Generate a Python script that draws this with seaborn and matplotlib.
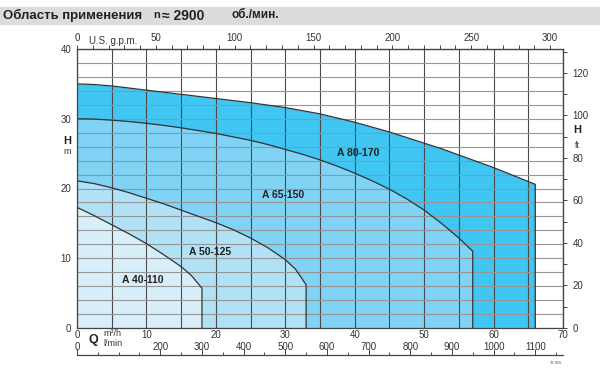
import numpy as np
import pandas as pd
import matplotlib
matplotlib.use('Agg')
import matplotlib.pyplot as plt
import matplotlib.ticker as mticker
import seaborn as sns

# pump range curves, Q in m3/h, H in m
q_80 = [0, 2.5, 5, 7.5, 10, 12.5, 15, 17.5, 20, 22.5, 25, 27.5, 30, 32.5, 35, 37.5,
        40, 42.5, 45, 47.5, 50, 52.5, 55, 57.5, 60, 62.5, 65, 66]
h_80 = [35.0, 34.9, 34.7, 34.4, 34.1, 33.8, 33.5, 33.2, 32.9, 32.6, 32.3, 31.95, 31.6,
        31.15, 30.7, 30.1, 29.5, 28.8, 28.1, 27.3, 26.5, 25.7, 24.8, 23.9, 23.0, 22.0,
        21.0, 20.6]
q_65 = [0, 2.5, 5, 7.5, 10, 12.5, 15, 17.5, 20, 22.5, 25, 27.5, 30, 32.5, 35, 37.5,
        40, 42.5, 45, 47.5, 50, 52.5, 55, 57]
h_65 = [30.0, 29.95, 29.8, 29.6, 29.35, 29.05, 28.7, 28.3, 27.9, 27.4, 26.9, 26.3, 25.6,
        24.9, 24.1, 23.2, 22.2, 21.1, 19.9, 18.5, 16.9, 15.0, 12.9, 11.0]
q_50 = [0, 2.5, 5, 7.5, 10, 12.5, 15, 17.5, 20, 22.5, 25, 27.5, 30, 31.5, 33]
h_50 = [21.1, 20.7, 20.1, 19.4, 18.6, 17.8, 16.9, 16.0, 15.1, 14.1, 12.9, 11.5, 9.8,
        8.4, 6.2]
q_40 = [0, 2.5, 5, 7.5, 10, 12.5, 15, 16.5, 18]
h_40 = [17.3, 16.1, 14.8, 13.5, 12.1, 10.5, 8.8, 7.5, 5.7]

models = ['A 80-170', 'A 65-150', 'A 50-125', 'A 40-110']
label_q = [40.5, 29.7, 19.2, 9.5]
label_h = [25.1, 19.1, 10.9, 6.9]
colors = ['#3fc6f3', '#80d3f5', '#b0e1f7', '#d8eff9']

gpm_ticks = [0, 50, 100, 150, 200, 250, 300]
ft_ticks = [0, 20, 40, 60, 80, 100, 120]
lmin_labels = [0, 200, 300, 400, 500, 600, 700, 800, 900, 1000, 1100]

sns.set_style('white')
plt.rcParams['font.family'] = ['Liberation Sans', 'DejaVu Sans']

fig = plt.figure(figsize=(6, 3.72), dpi=100)
ax = fig.add_axes([77/600, 1-328/372, (563-77)/600, (328-49)/372])

curves = [(q_80, h_80), (q_65, h_65), (q_50, h_50), (q_40, h_40)]
for (q, h), name, c in zip(curves, models, colors):
    ax.fill_between(q + [q[-1]], h + [0], 0, color=c, lw=0, zorder=1)
    df = pd.DataFrame({'Q': q + [q[-1]], 'H': h + [0]})
    sns.lineplot(data=df, x='Q', y='H', sort=False, estimator=None, color='#333333',
                 lw=0.9, ax=ax, zorder=4)

for name, x, y in zip(models, label_q, label_h):
    ax.text(x, y, name, ha='center', va='center', fontsize=7.5, fontweight='bold',
            color='#222222', zorder=5)

ax.set_xlim(0, 70)
ax.set_ylim(0, 40)
ax.set_xlabel('')
ax.set_ylabel('')
ax.xaxis.set_major_locator(mticker.MultipleLocator(10))
ax.xaxis.set_minor_locator(mticker.MultipleLocator(5))
ax.yaxis.set_major_locator(mticker.MultipleLocator(10))
ax.yaxis.set_minor_locator(mticker.MultipleLocator(2))
ax.set_axisbelow(False)
ax.xaxis.grid(True, which='both', color='#4a4a4a', lw=0.8, zorder=3)
ax.yaxis.grid(True, which='both', color='#959595', lw=0.8, zorder=3)
ax.tick_params(axis='both', which='both', length=0, labelsize=7, colors='#333333')
ax.tick_params(axis='x', pad=1.5)
ax.tick_params(axis='y', pad=4)
for s in ax.spines.values():
    s.set_color('#444444')
    s.set_linewidth(0.9)
    s.set_zorder(6)

# U.S. g.p.m. on top
top = ax.secondary_xaxis('top', functions=(lambda x: x * 4.403, lambda x: x / 4.403))
top.xaxis.set_major_locator(mticker.FixedLocator(gpm_ticks))
top.xaxis.set_minor_locator(mticker.FixedLocator(np.arange(0, 301, 10)))
top.tick_params(which='both', direction='out', length=3, width=0.7, colors='#444444',
                labelsize=7, pad=1)
top.tick_params(which='major', labelcolor='#333333')

# l/min below
bot = ax.secondary_xaxis(-0.097, functions=(lambda x: x * 16.667, lambda x: x / 16.667))
bot.xaxis.set_major_locator(mticker.FixedLocator(lmin_labels))
bot.xaxis.set_minor_locator(mticker.FixedLocator(np.arange(0, 1151, 50)))
bot.tick_params(which='both', direction='in', bottom=True, top=False,
                labelbottom=False, labeltop=True, colors='#444444', width=0.7)
bot.tick_params(which='major', length=4, labelsize=7, labelcolor='#333333', pad=2)
bot.tick_params(which='minor', length=2.5)
for s in bot.spines.values():
    s.set_color('#444444')
    s.set_linewidth(0.9)

# feet on the right
right = ax.secondary_yaxis('right', functions=(lambda x: x * 3.281, lambda x: x / 3.281))
right.yaxis.set_major_locator(mticker.FixedLocator(ft_ticks))
right.yaxis.set_minor_locator(mticker.FixedLocator(np.arange(0, 131, 10)))
right.tick_params(which='both', direction='out', length=3, width=0.7, colors='#444444',
                  labelsize=7, pad=4)
right.tick_params(which='major', labelcolor='#333333')

# header band
fig.patches.append(plt.Rectangle((0, 1-24/372), 1, 17/372, transform=fig.transFigure,
                                 color='#dcdcdc', zorder=0))
fig.text(3/600, 1-15.5/372, 'Область применения', fontsize=9.5, fontweight='bold',
         va='center', color='#222222')
fig.text(153/600, 1-15.5/372, 'n', fontsize=8, fontweight='bold', va='center',
         color='#222222')
fig.text(162/600, 1-15.5/372, '≈ 2900', fontsize=10, fontweight='bold', va='center',
         color='#222222')
fig.text(231/600, 1-15.5/372, 'об./мин.', fontsize=8.5, fontweight='bold', va='center',
         color='#222222')

fig.text(89/600, 1-41/372, 'U.S. g.p.m.', fontsize=7, va='center', color='#333333')
fig.text(67/600, 1-141/372, 'H', fontsize=8, fontweight='bold', ha='center', va='center',
         color='#222222')
fig.text(67/600, 1-151/372, 'm', fontsize=6.5, ha='center', va='center', color='#333333')
fig.text(577/600, 1-130/372, 'H', fontsize=8, fontweight='bold', ha='center', va='center',
         color='#222222')
fig.text(577/600, 1-145/372, 'ft', fontsize=6.5, ha='center', va='center', color='#333333')
fig.text(93/600, 1-340/372, 'Q', fontsize=9, fontweight='bold', ha='center', va='center',
         color='#222222')
fig.text(103/600, 1-334/372, 'm³/h', fontsize=6.5, va='center', color='#333333')
fig.text(103/600, 1-344/372, 'l/min', fontsize=6.5, va='center', color='#333333')
fig.text(556/600, 1-363/372, '72.855', fontsize=3, ha='center', va='center', color='#555555')

fig.savefig('out.png', dpi=100)
